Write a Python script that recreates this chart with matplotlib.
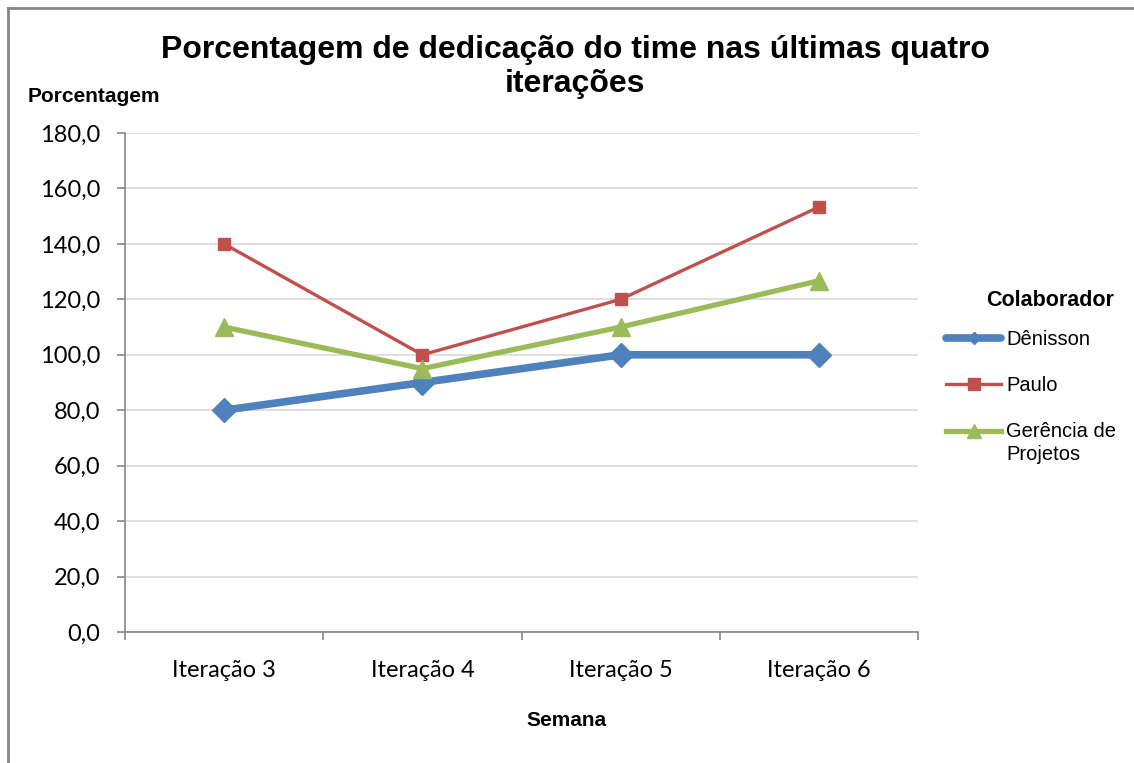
import matplotlib
matplotlib.use("Agg")
import matplotlib.pyplot as plt
from matplotlib.lines import Line2D
from matplotlib.legend_handler import HandlerLine2D
import numpy as np

categories = ["Iteração 3", "Iteração 4", "Iteração 5", "Iteração 6"]
denisson = [80.0, 90.0, 100.0, 100.0]
paulo = [140.0, 100.0, 120.0, 153.3]
gerencia = [110.0, 95.0, 110.0, 126.7]
series_names = ["Dênisson", "Paulo", "Gerência de\nProjetos"]

BLUE = "#4f81bd"
RED = "#c0504d"
GREEN = "#9bbb59"
AXC = "#868686"

fig = plt.figure(figsize=(11.34, 7.63), dpi=100)
ax = fig.add_axes([125/1134, 1-632/763, (918-125)/1134, (632-133)/763])

x = np.arange(len(categories))
ax.plot(x, denisson, color=BLUE, lw=5.5, marker="D", ms=12, zorder=3, solid_capstyle="round")
ax.plot(x, paulo, color=RED, lw=2.4, marker="s", ms=9, zorder=4)
ax.plot(x, gerencia, color=GREEN, lw=3.8, marker="^", ms=13, zorder=5)

ax.set_xlim(-0.5, 3.5)
ax.set_ylim(0, 180)
ax.set_yticks(np.arange(0, 181, 20))
ax.set_yticklabels([f"{v:.1f}".replace(".", ",") for v in np.arange(0, 181, 20)])
ax.set_xticks(x)
ax.set_xticklabels(categories)
ax.set_xticks(np.arange(-0.5, 3.6, 1), minor=True)
ax.tick_params(axis="x", which="major", length=0, pad=20)
ax.tick_params(axis="x", which="minor", length=6, color=AXC, width=1.2, direction="out")
ax.tick_params(axis="y", length=6, color=AXC, width=1.2, direction="out", pad=12)
for lab in ax.get_xticklabels() + ax.get_yticklabels():
    lab.set_fontfamily("Lato")
    lab.set_fontsize(17)
    lab.set_color("#000000")

ax.grid(axis="y", color="#d9d9d9", lw=1.2, zorder=0)
ax.set_axisbelow(True)
for s in ["top", "right"]:
    ax.spines[s].set_visible(False)
for s in ["left", "bottom"]:
    ax.spines[s].set_color(AXC)
    ax.spines[s].set_linewidth(1.2)

fig.text(575/1134, 1-67/763, "Porcentagem de dedicação do time nas últimas quatro\niterações",
         ha="center", va="center", fontsize=23, fontweight="bold", family="Liberation Sans",
         linespacing=1.15)
fig.text(28/1134, 1-96/763, "Porcentagem", ha="left", va="center", fontsize=15,
         fontweight="bold", family="Liberation Sans")
fig.text(566/1134, 1-720/763, "Semana", ha="center", va="center", fontsize=15,
         fontweight="bold", family="Liberation Sans")
fig.text(1050/1134, 1-300/763, "Colaborador", ha="center", va="center", fontsize=15.5,
         fontweight="bold", family="Liberation Sans")


class FirstLineHandler(HandlerLine2D):
    def __init__(self, shift=0.0, **kw):
        super().__init__(**kw)
        self.shift = shift

    def create_artists(self, legend, orig_handle, xdescent, ydescent, width, height, fontsize, trans):
        arts = super().create_artists(legend, orig_handle, xdescent, ydescent, width, height, fontsize, trans)
        for a in arts:
            a.set_ydata(np.asarray(a.get_ydata(), dtype=float) + self.shift * fontsize)
        return arts


handles = [
    Line2D([], [], color=BLUE, lw=5.5, marker="D", ms=6, solid_capstyle="round"),
    Line2D([], [], color=RED, lw=2.4, marker="s", ms=9),
    Line2D([], [], color=GREEN, lw=3.8, marker="^", ms=10),
]
leg = fig.legend(handles, series_names, loc="upper left", bbox_to_anchor=(936/1134, 1-320/763),
                 frameon=False, prop={"family": "Liberation Sans", "size": 14.5},
                 handlelength=2.75, handletextpad=0.25, labelspacing=1.35, borderpad=0,
                 handler_map={handles[2]: FirstLineHandler(shift=0.62)})
for t in leg.get_texts():
    t.set_linespacing(1.25)

fig.add_artist(Line2D([7.5/1134, 7.5/1134], [0, 1-8/763], color="#868686", lw=2, transform=fig.transFigure))
fig.add_artist(Line2D([7.5/1134, 1], [1-8/763, 1-8/763], color="#868686", lw=2, transform=fig.transFigure))

fig.savefig("out.png", dpi=100)
